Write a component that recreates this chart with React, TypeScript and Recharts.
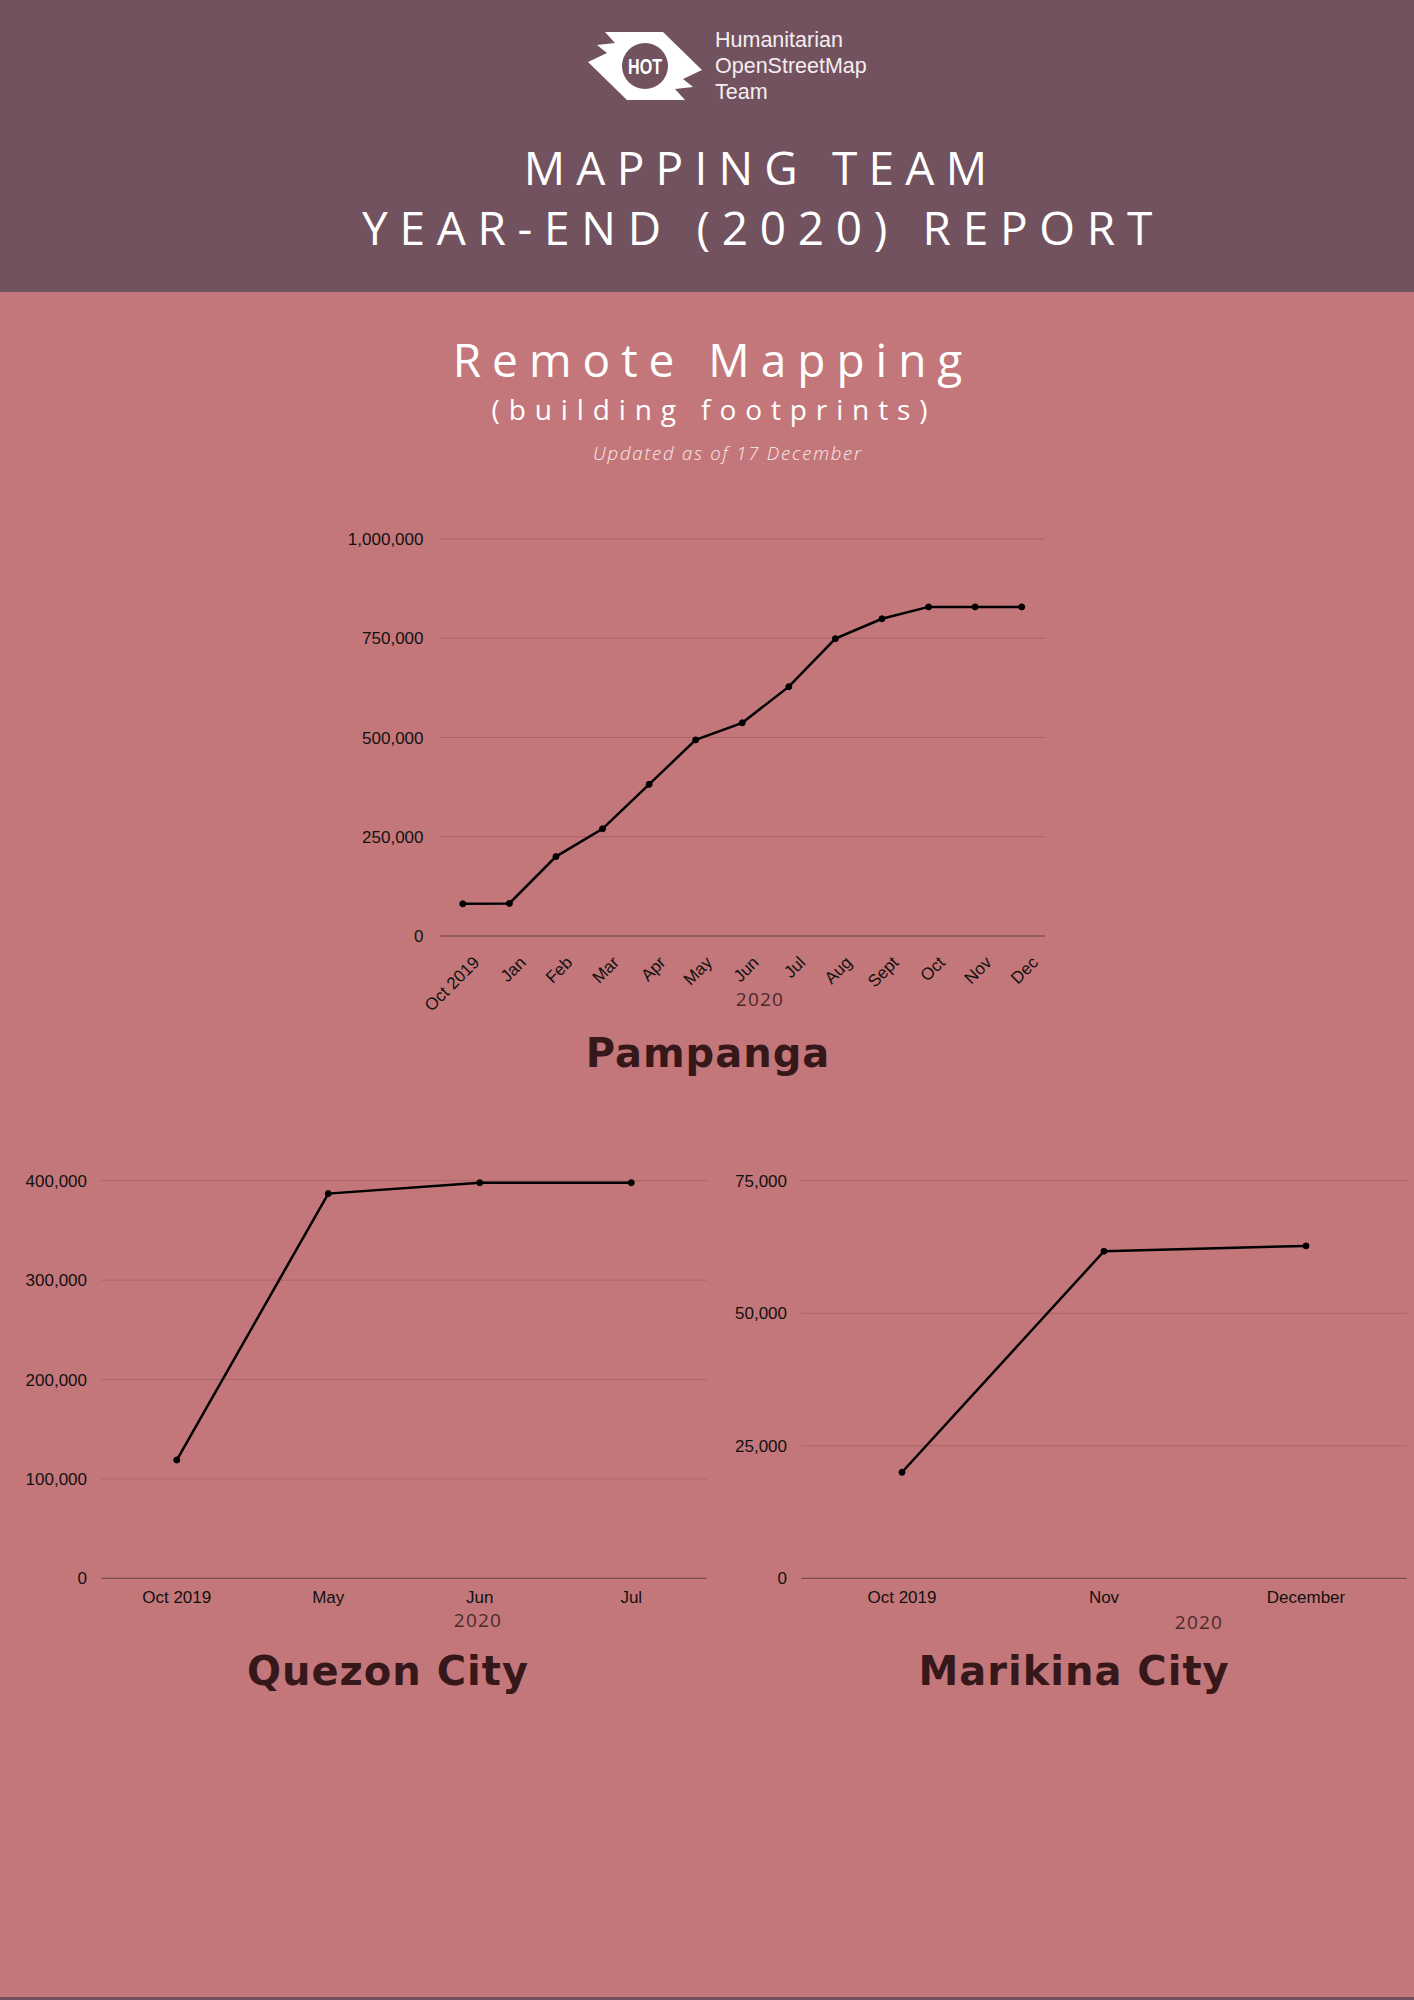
import { LineChart, Line, XAxis, YAxis, CartesianGrid } from 'recharts';

const pampangaMonths = ['Oct 2019', 'Jan', 'Feb', 'Mar', 'Apr', 'May', 'Jun', 'Jul', 'Aug', 'Sept', 'Oct', 'Nov', 'Dec'];
const pampangaValues = [81000, 82000, 200000, 270000, 382000, 494000, 537000, 628000, 749000, 799000, 829000, 829000, 829000];
const pampangaTicks = [0, 250000, 500000, 750000, 1000000];

const quezonMonths = ['Oct 2019', 'May', 'Jun', 'Jul'];
const quezonValues = [119000, 387000, 398000, 398000];
const quezonTicks = [0, 100000, 200000, 300000, 400000];

const marikinaMonths = ['Oct 2019', 'Nov', 'December'];
const marikinaValues = [20000, 61700, 62700];
const marikinaTicks = [0, 25000, 50000, 75000];

const HEADER = '#72525f';
const BODY = '#c4777a';
const GRID = '#a86568';
const AXIS = '#6c4a4f';
const TITLE_DARK = '#36171a';
const tickFont = 'Liberation Sans, Arial, sans-serif';
const titleFont = '"Open Sans", "Noto Sans", sans-serif';

const toRows = (months: string[], values: number[]) => months.map((m, i) => ({ m, v: values[i] }));
const fmt = (v: number) => v.toLocaleString('en-US');

const tickStyle = { fill: '#111', fontSize: 17, fontFamily: tickFont };

const RotatedTick = (props: any) => {
  const { x, y, payload } = props;
  const ax = x + 9;
  return (
    <text x={ax} y={y} dy="0.71em" textAnchor="end" transform={`rotate(-45, ${ax}, ${y})`} {...tickStyle}>
      {payload.value}
    </text>
  );
};

function Logo() {
  return (
    <g>
      <polygon
        points="605,32 663,32 702,70 683,79 693,87 675,89 685,100 627,100 588,62 607,53 597,45 615,43"
        fill="#ffffff"
      />
      <circle cx={645} cy={66} r={23} fill={HEADER} />
      <text x={645} y={74} textAnchor="middle" fill="#fff" fontFamily={tickFont} fontWeight="bold" fontSize={22}
        textLength={34} lengthAdjust="spacingAndGlyphs">HOT</text>
      <g fill="#f5eef0" fontFamily={tickFont} fontSize={21.5}>
        <text x={715} y={47}>Humanitarian</text>
        <text x={715} y={73}>OpenStreetMap</text>
        <text x={715} y={99}>Team</text>
      </g>
    </g>
  );
}

export default function App() {
  const pampanga = toRows(pampangaMonths, pampangaValues);
  const quezon = toRows(quezonMonths, quezonValues);
  const marikina = toRows(marikinaMonths, marikinaValues);

  return (
    <div style={{ position: 'absolute', left: 0, top: 0, width: 1414, height: 2000, background: BODY, overflow: 'hidden' }}>
      <div style={{ position: 'absolute', left: 0, top: 0, width: 1414, height: 292, background: HEADER }} />
      <div style={{ position: 'absolute', left: 0, top: 1997, width: 1414, height: 3, background: HEADER }} />

      <svg width={1414} height={2000} style={{ position: 'absolute', left: 0, top: 0 }}>
        <Logo />
        <g fill="#ffffff" fontFamily={titleFont} textAnchor="middle" fontWeight={500}>
          <text x={761} y={185} fontSize={46} letterSpacing={11.2}>MAPPING TEAM</text>
          <text x={763} y={245} fontSize={46} letterSpacing={11.7}>YEAR-END (2020) REPORT</text>
          <text x={713} y={377} fontSize={46} letterSpacing={11}>Remote Mapping</text>
          <text x={714} y={420} fontSize={28} letterSpacing={8.9}>(building footprints)</text>
        </g>
        <text x={728} y={460} textAnchor="middle" fontFamily={titleFont} fontSize={18.5} fontStyle="italic" fontWeight={300}
          letterSpacing={1.8} fill="#f8eaea">
          Updated as of 17 December
        </text>
        <g fill="#4a2a2d" fontFamily={titleFont} fontSize={19} letterSpacing={1.2} textAnchor="middle">
          <text x={760} y={1006}>2020</text>
          <text x={478} y={1627}>2020</text>
          <text x={1199} y={1629}>2020</text>
        </g>
        <g fill={TITLE_DARK} fontFamily='"DejaVu Sans", sans-serif' fontWeight="bold" fontSize={40} letterSpacing={1} textAnchor="middle">
          <text x={708} y={1067}>Pampanga</text>
          <text x={388} y={1685}>Quezon City</text>
          <text x={1074} y={1685}>Marikina City</text>
        </g>
      </svg>

      <div style={{ position: 'absolute', left: 330, top: 500 }}>
        <LineChart width={740} height={560} data={pampanga} margin={{ top: 39, right: 25, left: 29.5, bottom: 0 }}>
          <CartesianGrid vertical={false} stroke={GRID} />
          <XAxis dataKey="m" interval={0} height={124} padding={{ left: 23.3, right: 23.3 }}
            axisLine={{ stroke: AXIS }} tickLine={false} tickSize={6} tickMargin={13} tick={<RotatedTick />} />
          <YAxis domain={[0, 1000000]} ticks={pampangaTicks} tickFormatter={fmt} width={80}
            axisLine={false} tickLine={false} tickSize={6} tickMargin={10} tick={tickStyle} />
          <Line type="linear" dataKey="v" stroke="#000" strokeWidth={2.5} isAnimationActive={false}
            dot={{ r: 3, fill: '#000', stroke: '#000', strokeWidth: 1 }} />
        </LineChart>
      </div>

      <div style={{ position: 'absolute', left: 0, top: 1140 }}>
        <LineChart width={720} height={500} data={quezon} margin={{ top: 40.7, right: 13, left: 21, bottom: 0 }}>
          <CartesianGrid vertical={false} stroke={GRID} />
          <XAxis dataKey="m" interval={0} height={61.7} padding={{ left: 75.75, right: 75.75 }}
            axisLine={{ stroke: AXIS }} tickLine={false} tickSize={6} tickMargin={7} tick={tickStyle} />
          <YAxis domain={[0, 400000]} ticks={quezonTicks} tickFormatter={fmt} width={80}
            axisLine={false} tickLine={false} tickSize={6} tickMargin={8} tick={tickStyle} />
          <Line type="linear" dataKey="v" stroke="#000" strokeWidth={2.5} isAnimationActive={false}
            dot={{ r: 3, fill: '#000', stroke: '#000', strokeWidth: 1 }} />
        </LineChart>
      </div>

      <div style={{ position: 'absolute', left: 720, top: 1140 }}>
        <LineChart width={694} height={500} data={marikina} margin={{ top: 40.7, right: 7, left: 1, bottom: 0 }}>
          <CartesianGrid vertical={false} stroke={GRID} />
          <XAxis dataKey="m" interval={0} height={61.7} padding={{ left: 101, right: 101 }}
            axisLine={{ stroke: AXIS }} tickLine={false} tickSize={6} tickMargin={7} tick={tickStyle} />
          <YAxis domain={[0, 75000]} ticks={marikinaTicks} tickFormatter={fmt} width={80}
            axisLine={false} tickLine={false} tickSize={6} tickMargin={8} tick={tickStyle} />
          <Line type="linear" dataKey="v" stroke="#000" strokeWidth={2.5} isAnimationActive={false}
            dot={{ r: 3, fill: '#000', stroke: '#000', strokeWidth: 1 }} />
        </LineChart>
      </div>
    </div>
  );
}
